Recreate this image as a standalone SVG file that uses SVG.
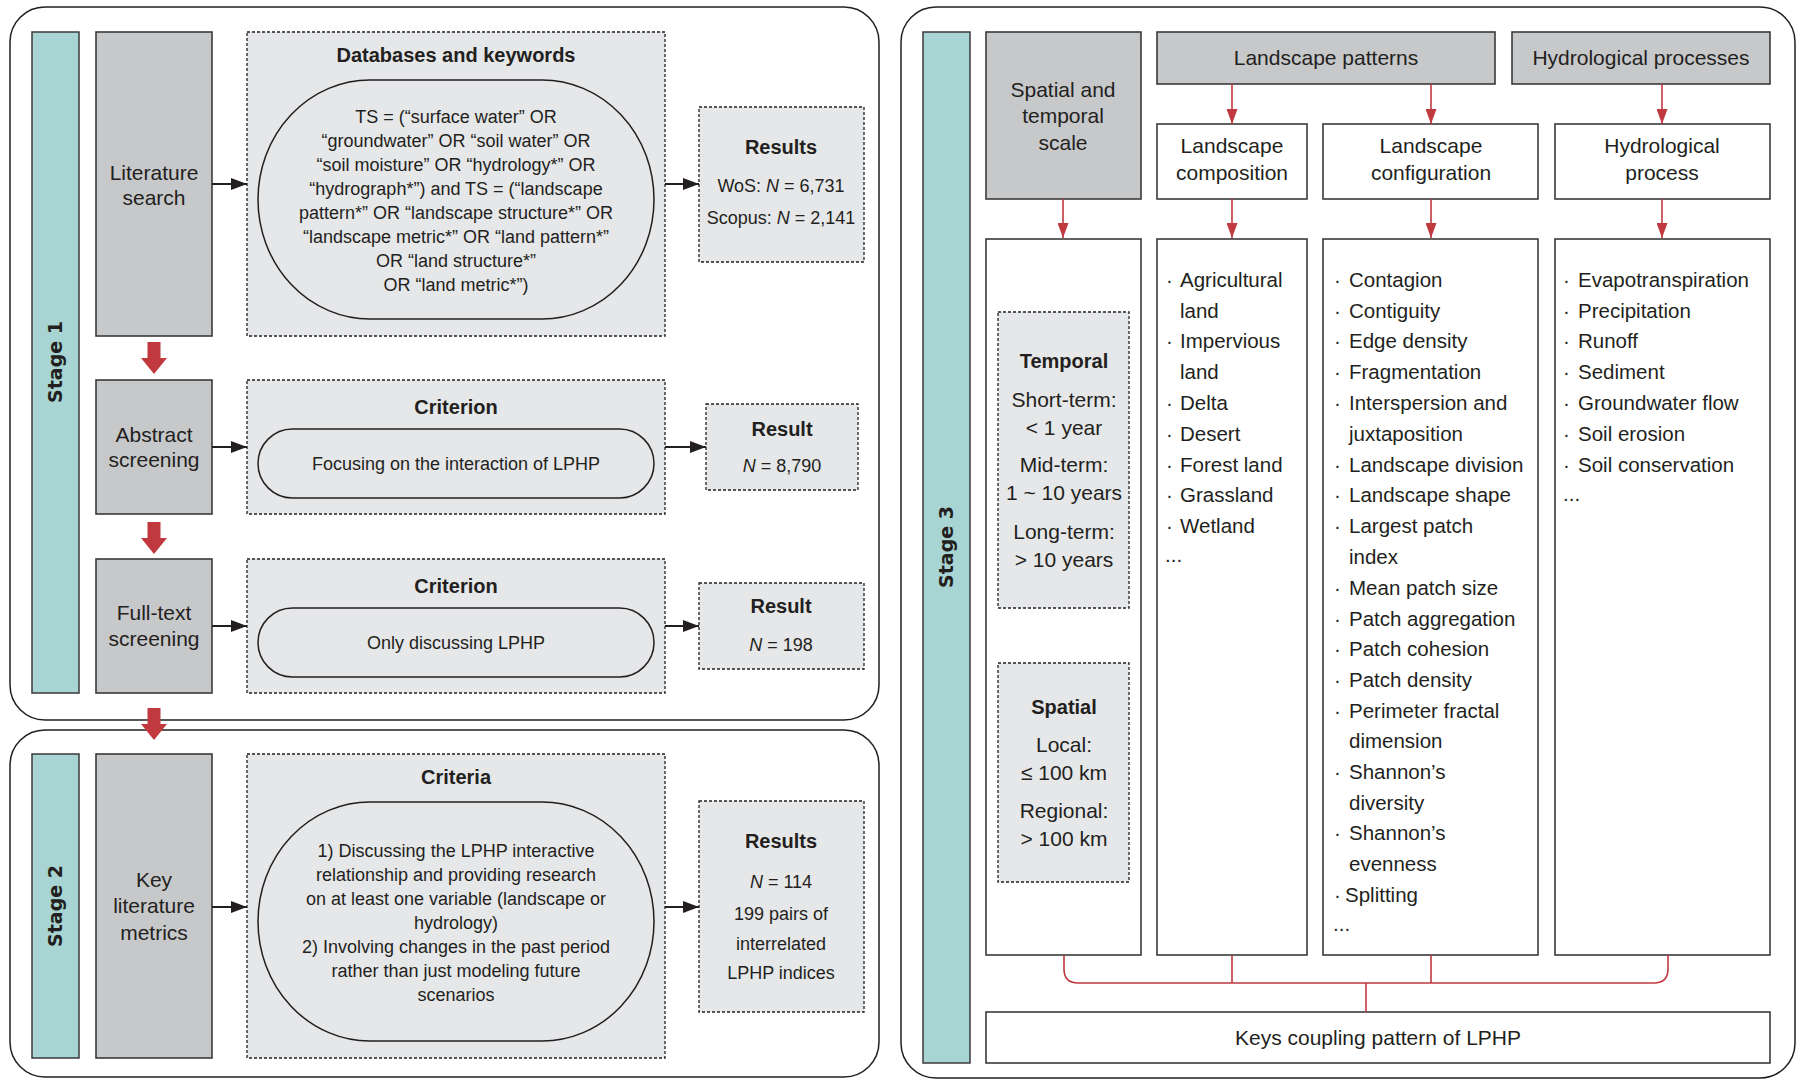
<svg xmlns="http://www.w3.org/2000/svg" width="1797" height="1080" viewBox="0 0 1797 1080">
<defs>
<marker id="ab" viewBox="0 0 16 12" refX="16" refY="6" markerWidth="16" markerHeight="12" markerUnits="userSpaceOnUse" orient="auto"><path d="M0,0 L16,6 L0,12 Z" fill="#231f20"/></marker>
<marker id="ar" viewBox="0 0 11 15" refX="11" refY="5.5" markerWidth="11" markerHeight="15" markerUnits="userSpaceOnUse" orient="auto"><path d="M0,0 L11,5.5 L0,11 Z" fill="#c0393e"/></marker>
<marker id="ar2" viewBox="0 0 15 11" refX="15" refY="5.5" markerWidth="15" markerHeight="11" markerUnits="userSpaceOnUse" orient="auto"><path d="M0,0 L15,5.5 L0,11 Z" fill="#c0393e"/></marker>
</defs>
<style>
text{font-family:"Liberation Sans",Arial,sans-serif;fill:#231f20;}
.panel{fill:#fff;stroke:#231f20;stroke-width:1.5;}
.teal{fill:#a8d5d3;stroke:#3a3a3a;stroke-width:1.5;}
.gray{fill:#c7c8ca;stroke:#3a3a3a;stroke-width:1.6;}
.dash{fill:#e6e7e9;stroke:#231f20;stroke-width:1.3;stroke-dasharray:3,2;}
.ell{fill:#e6e7e9;stroke:#231f20;stroke-width:1.5;}
.wbox{fill:#fff;stroke:#3a3a3a;stroke-width:1.6;}
.stage{font-family:"DejaVu Sans",sans-serif;font-weight:bold;font-size:19px;text-anchor:middle;}
.lbl{font-size:21px;text-anchor:middle;}
.ttl{font-size:20px;font-weight:bold;text-anchor:middle;}
.etx{font-size:18px;text-anchor:middle;}
.rtx{font-size:18px;text-anchor:middle;}
.itm{font-size:20.5px;}
.blk{stroke:#231f20;stroke-width:2;fill:none;}
.red{stroke:#c0393e;stroke-width:1.6;fill:none;}
.bigred{fill:#c0393e;}
</style>

<!-- Panels -->
<g id="panel-stage1"><rect class="panel" x="10" y="7" width="869" height="713" rx="35"/></g>
<g id="panel-stage2"><rect class="panel" x="10" y="730" width="869" height="347" rx="35"/></g>
<g id="panel-stage3"><rect class="panel" x="901" y="7" width="894" height="1071" rx="35"/></g>

<!-- Stage bars -->
<g id="stage1"><rect class="teal" x="32" y="32" width="47" height="661"/><text class="stage" transform="translate(62,362) rotate(-90)">Stage 1</text></g>
<g id="stage2"><rect class="teal" x="32" y="754" width="47" height="304"/><text class="stage" transform="translate(62,906) rotate(-90)">Stage 2</text></g>
<g id="stage3"><rect class="teal" x="923" y="32" width="47" height="1031"/><text class="stage" transform="translate(953,547) rotate(-90)">Stage 3</text></g>

<!-- Stage 1 row 1 -->
<g id="lit-search"><rect class="gray" x="96" y="32" width="116" height="304"/><text class="lbl" x="154" y="180">Literature</text><text class="lbl" x="154" y="205">search</text></g>
<g id="databases"><rect class="dash" x="247" y="32" width="418" height="304"/>
<text class="ttl" x="456" y="62">Databases and keywords</text>
<rect class="ell" x="258" y="80" width="396" height="239" rx="112" ry="119.5"/>
<text class="etx" x="456" y="123">TS = (“surface water” OR</text>
<text class="etx" x="456" y="147">“groundwater” OR “soil water” OR</text>
<text class="etx" x="456" y="171">“soil moisture” OR “hydrology*” OR</text>
<text class="etx" x="456" y="195">“hydrograph*”) and TS = (“landscape</text>
<text class="etx" x="456" y="219">pattern*” OR “landscape structure*” OR</text>
<text class="etx" x="456" y="243">“landscape metric*” OR “land pattern*”</text>
<text class="etx" x="456" y="267">OR “land structure*”</text>
<text class="etx" x="456" y="291">OR “land metric*”)</text>
</g>
<g id="results1"><rect class="dash" x="699" y="107" width="165" height="155"/>
<text class="ttl" x="781" y="154">Results</text>
<text class="rtx" x="781" y="192">WoS: <tspan font-style="italic">N</tspan> = 6,731</text>
<text class="rtx" x="781" y="224">Scopus: <tspan font-style="italic">N</tspan> = 2,141</text>
</g>

<!-- Stage 1 row 2 -->
<g id="abstract"><rect class="gray" x="96" y="380" width="116" height="134"/><text class="lbl" x="154" y="442">Abstract</text><text class="lbl" x="154" y="467">screening</text></g>
<g id="criterion1"><rect class="dash" x="247" y="380" width="418" height="134"/>
<text class="ttl" x="456" y="414">Criterion</text>
<rect class="ell" x="258" y="429" width="396" height="69" rx="34.5"/>
<text class="etx" x="456" y="470">Focusing on the interaction of LPHP</text>
</g>
<g id="result2"><rect class="dash" x="706" y="404" width="152" height="86"/>
<text class="ttl" x="782" y="436">Result</text>
<text class="rtx" x="782" y="472"><tspan font-style="italic">N</tspan> = 8,790</text>
</g>

<!-- Stage 1 row 3 -->
<g id="fulltext"><rect class="gray" x="96" y="559" width="116" height="134"/><text class="lbl" x="154" y="620">Full-text</text><text class="lbl" x="154" y="646">screening</text></g>
<g id="criterion2"><rect class="dash" x="247" y="559" width="418" height="134"/>
<text class="ttl" x="456" y="593">Criterion</text>
<rect class="ell" x="258" y="608" width="396" height="69" rx="34.5"/>
<text class="etx" x="456" y="649">Only discussing LPHP</text>
</g>
<g id="result3"><rect class="dash" x="699" y="583" width="165" height="86"/>
<text class="ttl" x="781" y="613">Result</text>
<text class="rtx" x="781" y="651"><tspan font-style="italic">N</tspan> = 198</text>
</g>

<!-- Stage 2 -->
<g id="key-lit"><rect class="gray" x="96" y="754" width="116" height="304"/><text class="lbl" x="154" y="887">Key</text><text class="lbl" x="154" y="913">literature</text><text class="lbl" x="154" y="940">metrics</text></g>
<g id="criteria"><rect class="dash" x="247" y="754" width="418" height="304"/>
<text class="ttl" x="456" y="784">Criteria</text>
<rect class="ell" x="258" y="802" width="396" height="239" rx="112" ry="119.5"/>
<text class="etx" x="456" y="857">1) Discussing the LPHP interactive</text>
<text class="etx" x="456" y="881">relationship and providing research</text>
<text class="etx" x="456" y="905">on at least one variable (landscape or</text>
<text class="etx" x="456" y="929">hydrology)</text>
<text class="etx" x="456" y="953">2) Involving changes in the past period</text>
<text class="etx" x="456" y="977">rather than just modeling future</text>
<text class="etx" x="456" y="1001">scenarios</text>
</g>
<g id="results4"><rect class="dash" x="699" y="801" width="165" height="211"/>
<text class="ttl" x="781" y="848">Results</text>
<text class="rtx" x="781" y="888"><tspan font-style="italic">N</tspan> = 114</text>
<text class="rtx" x="781" y="920">199 pairs of</text>
<text class="rtx" x="781" y="950">interrelated</text>
<text class="rtx" x="781" y="979">LPHP indices</text>
</g>

<!-- Stage 3 header boxes -->
<g id="scale"><rect class="gray" x="986" y="32" width="155" height="167"/><text class="lbl" x="1063" y="97">Spatial and</text><text class="lbl" x="1063" y="123">temporal</text><text class="lbl" x="1063" y="150">scale</text></g>
<g id="landscape-patterns"><rect class="gray" x="1157" y="32" width="338" height="52"/><text class="lbl" x="1326" y="65">Landscape patterns</text></g>
<g id="hydrological-processes"><rect class="gray" x="1512" y="32" width="258" height="52"/><text class="lbl" x="1641" y="65">Hydrological processes</text></g>
<g id="composition"><rect class="wbox" x="1157" y="124" width="150" height="75"/><text class="lbl" x="1232" y="153">Landscape</text><text class="lbl" x="1232" y="180">composition</text></g>
<g id="configuration"><rect class="wbox" x="1323" y="124" width="215" height="75"/><text class="lbl" x="1431" y="153">Landscape</text><text class="lbl" x="1431" y="180">configuration</text></g>
<g id="hydro-process"><rect class="wbox" x="1555" y="124" width="215" height="75"/><text class="lbl" x="1662" y="153">Hydrological</text><text class="lbl" x="1662" y="180">process</text></g>

<!-- Stage 3 column 1 -->
<g id="scale-detail"><rect class="wbox" x="986" y="239" width="155" height="716"/>
<rect class="dash" x="998" y="312" width="131" height="296"/>
<text class="ttl" x="1064" y="368">Temporal</text>
<text class="lbl" x="1064" y="407">Short-term:</text>
<text class="lbl" x="1064" y="435">&lt; 1 year</text>
<text class="lbl" x="1064" y="472">Mid-term:</text>
<text class="lbl" x="1064" y="500">1 ~ 10 years</text>
<text class="lbl" x="1064" y="539">Long-term:</text>
<text class="lbl" x="1064" y="567">&gt; 10 years</text>
<rect class="dash" x="998" y="663" width="131" height="219"/>
<text class="ttl" x="1064" y="714">Spatial</text>
<text class="lbl" x="1064" y="752">Local:</text>
<text class="lbl" x="1064" y="780">≤ 100 km</text>
<text class="lbl" x="1064" y="818">Regional:</text>
<text class="lbl" x="1064" y="846">&gt; 100 km</text>
</g>

<!-- Stage 3 column 2 -->
<g id="composition-list"><rect class="wbox" x="1157" y="239" width="150" height="716"/>
<g class="itm">
<text x="1166" y="287">·</text><text x="1180" y="287">Agricultural</text>
<text x="1180" y="318">land</text>
<text x="1166" y="348">·</text><text x="1180" y="348">Impervious</text>
<text x="1180" y="379">land</text>
<text x="1166" y="410">·</text><text x="1180" y="410">Delta</text>
<text x="1166" y="441">·</text><text x="1180" y="441">Desert</text>
<text x="1166" y="472">·</text><text x="1180" y="472">Forest land</text>
<text x="1166" y="502">·</text><text x="1180" y="502">Grassland</text>
<text x="1166" y="533">·</text><text x="1180" y="533">Wetland</text>
<text x="1165" y="562">...</text>
</g></g>

<!-- Stage 3 column 3 -->
<g id="configuration-list"><rect class="wbox" x="1323" y="239" width="215" height="716"/>
<g class="itm">
<text x="1334" y="287">·</text><text x="1349" y="287">Contagion</text>
<text x="1334" y="318">·</text><text x="1349" y="318">Contiguity</text>
<text x="1334" y="348">·</text><text x="1349" y="348">Edge density</text>
<text x="1334" y="379">·</text><text x="1349" y="379">Fragmentation</text>
<text x="1334" y="410">·</text><text x="1349" y="410">Interspersion and</text>
<text x="1349" y="441">juxtaposition</text>
<text x="1334" y="472">·</text><text x="1349" y="472">Landscape division</text>
<text x="1334" y="502">·</text><text x="1349" y="502">Landscape shape</text>
<text x="1334" y="533">·</text><text x="1349" y="533">Largest patch</text>
<text x="1349" y="564">index</text>
<text x="1334" y="595">·</text><text x="1349" y="595">Mean patch size</text>
<text x="1334" y="626">·</text><text x="1349" y="626">Patch aggregation</text>
<text x="1334" y="656">·</text><text x="1349" y="656">Patch cohesion</text>
<text x="1334" y="687">·</text><text x="1349" y="687">Patch density</text>
<text x="1334" y="718">·</text><text x="1349" y="718">Perimeter fractal</text>
<text x="1349" y="748">dimension</text>
<text x="1334" y="779">·</text><text x="1349" y="779">Shannon’s</text>
<text x="1349" y="810">diversity</text>
<text x="1334" y="840">·</text><text x="1349" y="840">Shannon’s</text>
<text x="1349" y="871">evenness</text>
<text x="1334" y="902">·</text><text x="1345" y="902">Splitting</text>
<text x="1333" y="931">...</text>
</g></g>

<!-- Stage 3 column 4 -->
<g id="hydro-list"><rect class="wbox" x="1555" y="239" width="215" height="716"/>
<g class="itm">
<text x="1563" y="287">·</text><text x="1578" y="287">Evapotranspiration</text>
<text x="1563" y="318">·</text><text x="1578" y="318">Precipitation</text>
<text x="1563" y="348">·</text><text x="1578" y="348">Runoff</text>
<text x="1563" y="379">·</text><text x="1578" y="379">Sediment</text>
<text x="1563" y="410">·</text><text x="1578" y="410">Groundwater flow</text>
<text x="1563" y="441">·</text><text x="1578" y="441">Soil erosion</text>
<text x="1563" y="472">·</text><text x="1578" y="472">Soil conservation</text>
<text x="1563" y="501">...</text>
</g></g>

<g id="keys-coupling"><rect class="wbox" x="986" y="1012" width="784" height="51"/><text class="lbl" x="1378" y="1045">Keys coupling pattern of LPHP</text></g>

<!-- Connectors -->
<g id="connectors">
<line class="blk" x1="212" y1="184" x2="247" y2="184" marker-end="url(#ab)"/>
<line class="blk" x1="665" y1="184" x2="699" y2="184" marker-end="url(#ab)"/>
<line class="blk" x1="212" y1="447" x2="247" y2="447" marker-end="url(#ab)"/>
<line class="blk" x1="665" y1="447" x2="706" y2="447" marker-end="url(#ab)"/>
<line class="blk" x1="212" y1="626" x2="247" y2="626" marker-end="url(#ab)"/>
<line class="blk" x1="665" y1="626" x2="699" y2="626" marker-end="url(#ab)"/>
<line class="blk" x1="212" y1="907" x2="247" y2="907" marker-end="url(#ab)"/>
<line class="blk" x1="665" y1="907" x2="699" y2="907" marker-end="url(#ab)"/>
<path class="bigred" d="M147.5,342 H160.5 V358 H167 L154,374 L141,358 H147.5 Z"/>
<path class="bigred" d="M147.5,522 H160.5 V538 H167 L154,554 L141,538 H147.5 Z"/>
<path class="bigred" d="M147.5,708 H160.5 V724 H167 L154,740 L141,724 H147.5 Z"/>
<line class="red" x1="1232" y1="84" x2="1232" y2="124" marker-end="url(#ar2)" />
<line class="red" x1="1431" y1="84" x2="1431" y2="124" marker-end="url(#ar2)"/>
<line class="red" x1="1662" y1="84" x2="1662" y2="124" marker-end="url(#ar2)"/>
<line class="red" x1="1063" y1="199" x2="1063" y2="238" marker-end="url(#ar2)"/>
<line class="red" x1="1232" y1="199" x2="1232" y2="238" marker-end="url(#ar2)"/>
<line class="red" x1="1431" y1="199" x2="1431" y2="238" marker-end="url(#ar2)"/>
<line class="red" x1="1662" y1="199" x2="1662" y2="238" marker-end="url(#ar2)"/>
<path class="red" d="M1064,955 V969 Q1064,983 1078,983 H1654 Q1668,983 1668,969 V955"/>
<line class="red" x1="1232" y1="955" x2="1232" y2="983"/>
<line class="red" x1="1431" y1="955" x2="1431" y2="983"/>
<line class="red" x1="1366" y1="983" x2="1366" y2="1012"/>
</g>
</svg>
